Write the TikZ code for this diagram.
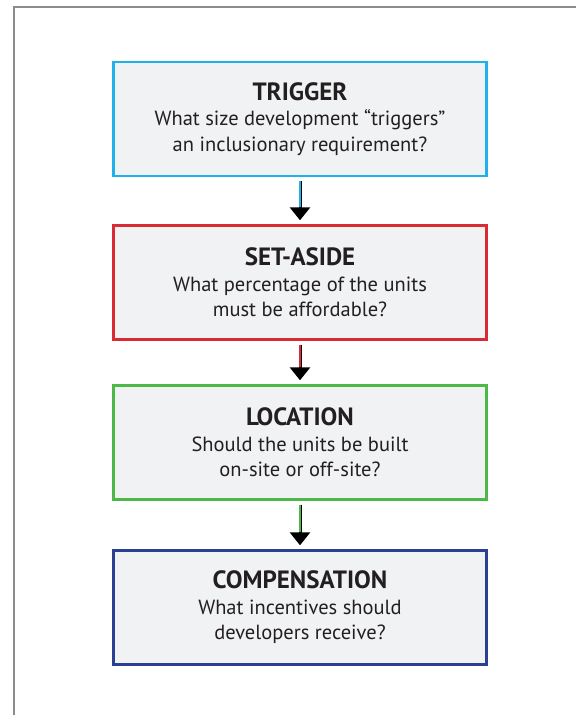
\documentclass[tikz,border=0pt]{standalone}
\usepackage{fontspec}
\setmainfont{PT Sans}
\usepackage{tikz}
\usetikzlibrary{
  arrows.meta,
  positioning,
}
\definecolor{framegray}{HTML}{8C8C8E}
\definecolor{boxfill}{HTML}{F1F2F4}
\definecolor{inktext}{HTML}{231F20}
\definecolor{trigblue}{HTML}{1EB1EA}
\definecolor{setred}{HTML}{D92B32}
\definecolor{locgreen}{HTML}{4DB848}
\definecolor{compblue}{HTML}{2A4193}
\newcommand{\steptitle}[1]{{\fontsize{25}{25}\selectfont\bfseries #1}}

\begin{document}
\begin{tikzpicture}[
    x=1pt, y=-1pt,
    stepbox/.style={draw, line width=2.4pt, fill=boxfill, text=inktext,
      minimum width=373pt, minimum height=114pt, align=center,
      font=\fontsize{20.5}{25.5}\selectfont},
    arrowline/.style={black, line width=3pt,
      -{Triangle[width=20pt, length=13pt]},
      shorten <=4pt, shorten >=4pt},
    arrowcore/.style={line width=1.1pt, shorten <=4pt, shorten >=17pt},
  ]
  \useasboundingbox (0,0) rectangle (576,715);

  % Outer frame (left and top edges only)
  \draw[framegray, line width=2pt] (14,715) -- (14,7) -- (576,7);

  % Boxes
  \node[stepbox, draw=trigblue] (trigger) at (300,119)
    {\steptitle{TRIGGER}\\
     What size development “triggers”\\ an inclusionary requirement?};
  \node[stepbox, draw=setred] (setaside) at (300,282.5)
    {\steptitle{SET-ASIDE}\\
     What percentage of the units\\ must be affordable?};
  \node[stepbox, draw=locgreen] (location) at (300,442.5)
    {\steptitle{LOCATION}\\
     Should the units be built\\ on-site or off-site?};
  \node[stepbox, draw=compblue] (compensation) at (300,607.5)
    {\steptitle{COMPENSATION}\\
     What incentives should\\ developers receive?};

  % Arrows
  \draw[arrowline] (trigger) -- (setaside);
  \draw[arrowcore, trigblue] (trigger) -- (setaside);
  \draw[arrowline] (setaside) -- (location);
  \draw[arrowcore, setred] (setaside) -- (location);
  \draw[arrowline] (location) -- (compensation);
  \draw[arrowcore, locgreen] (location) -- (compensation);
\end{tikzpicture}
\end{document}
